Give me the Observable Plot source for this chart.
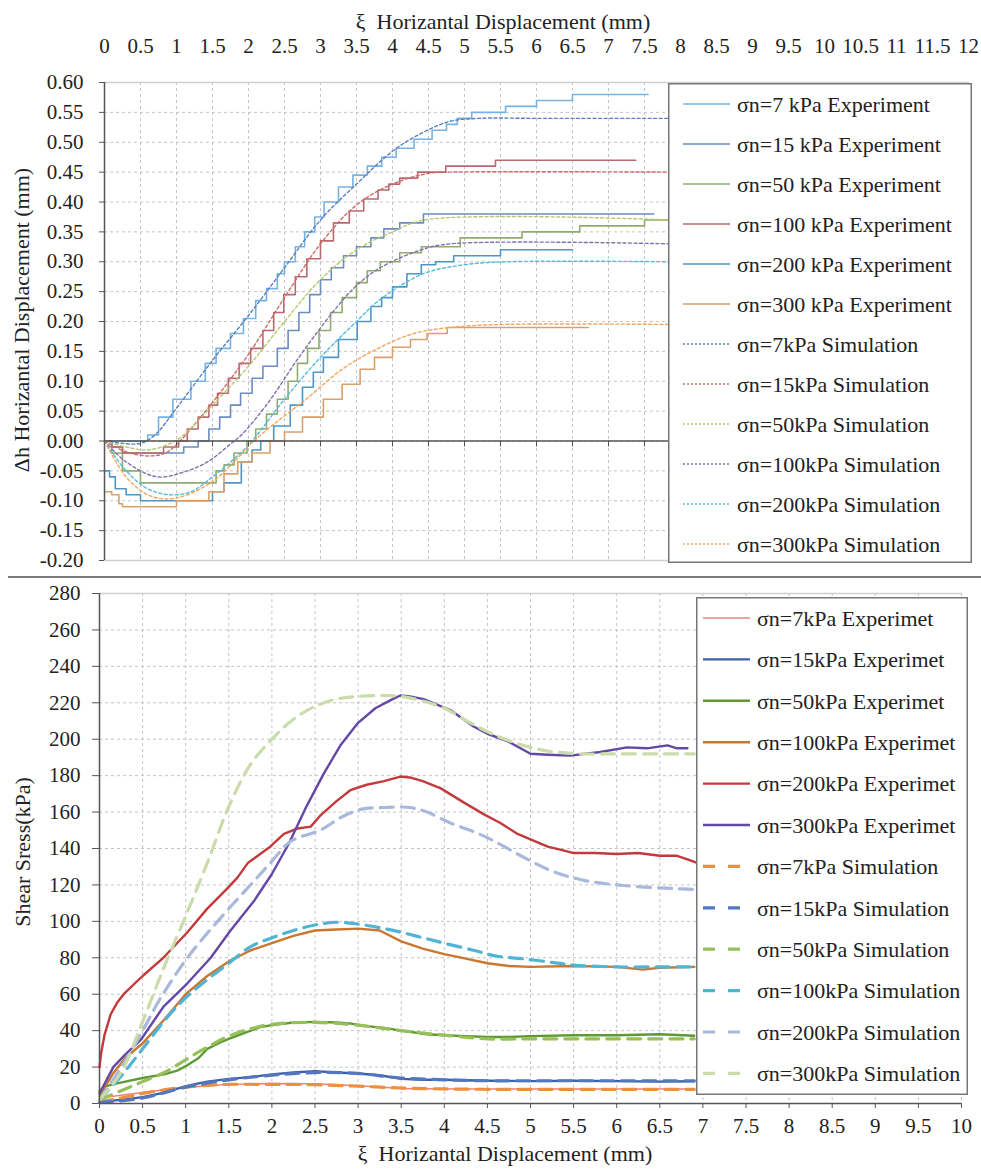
<!DOCTYPE html>
<html><head><meta charset="utf-8">
<script src="https://cdn.jsdelivr.net/npm/d3@7"></script>
<script src="https://cdn.jsdelivr.net/npm/@observablehq/plot@0.6"></script>
<style>
body{margin:0;background:#fff;}
#wrap{position:relative;width:981px;height:1171px;overflow:hidden;font-family:"Liberation Serif","Times New Roman",Times,"DejaVu Serif",serif;color:#222;}
.abs{position:absolute;white-space:pre;line-height:1;}
</style></head><body><div id="wrap"></div>
<script>
// ---------- top panel: Δh vs ξ ----------
const dhXTicks = [0,0.5,1,1.5,2,2.5,3,3.5,4,4.5,5,5.5,6,6.5,7,7.5,8,8.5,9,9.5,10,10.5,11,11.5,12];
const dhYTicks = [-0.2,-0.15,-0.1,-0.05,0,0.05,0.1,0.15,0.2,0.25,0.3,0.35,0.4,0.45,0.5,0.55,0.6];
const dhLabels = ["σn=7 kPa Experiment","σn=15 kPa Experiment","σn=50 kPa Experiment","σn=100 kPa Experiment","σn=200 kPa Experiment","σn=300 kPa Experiment","σn=7kPa Simulation","σn=15kPa Simulation","σn=50kPa Simulation","σn=100kPa Simulation","σn=200kPa Simulation","σn=300kPa Simulation"];

const dhExp7 = [[0,0],[0.5,0],[0.6,0.01],[0.75,0.04],[0.95,0.07],[1.2,0.10],[1.4,0.13],[1.55,0.155],[1.75,0.18],[1.93,0.205],[2.1,0.235],[2.25,0.255],[2.4,0.28],[2.5,0.30],[2.65,0.325],[2.78,0.35],[2.92,0.375],[3.05,0.40],[3.25,0.425],[3.45,0.445],[3.65,0.46],[3.85,0.475],[4.05,0.49],[4.3,0.505],[4.55,0.52],[4.75,0.53],[4.9,0.54],[5.1,0.55],[5.57,0.56],[6.0,0.57],[6.5,0.58],[7.55,0.58]];
const dhExp15 = [[0,0],[0.1,-0.01],[0.25,-0.02],[1.1,-0.01],[1.3,0],[1.45,0.02],[1.6,0.04],[1.75,0.06],[1.89,0.08],[2.05,0.105],[2.2,0.125],[2.4,0.155],[2.55,0.185],[2.7,0.215],[2.85,0.245],[3.0,0.27],[3.15,0.29],[3.32,0.31],[3.5,0.325],[3.7,0.34],[3.88,0.355],[4.1,0.365],[4.43,0.38],[7.63,0.38]];
const dhExp50 = [[0,0],[0.1,-0.02],[0.25,-0.05],[0.5,-0.07],[1.4,-0.07],[1.55,-0.05],[1.66,-0.04],[1.8,-0.02],[1.98,0],[2.1,0.02],[2.25,0.045],[2.4,0.07],[2.55,0.10],[2.68,0.13],[2.82,0.155],[2.98,0.185],[3.14,0.215],[3.3,0.24],[3.5,0.265],[3.65,0.285],[3.83,0.30],[4.1,0.315],[4.4,0.325],[4.94,0.34],[5.8,0.35],[6.6,0.36],[7.5,0.37],[7.85,0.37]];
const dhExp100 = [[0,0],[0.1,-0.01],[0.25,-0.02],[0.82,-0.01],[1.03,0],[1.15,0.02],[1.3,0.04],[1.45,0.06],[1.57,0.08],[1.72,0.105],[1.87,0.13],[2.03,0.155],[2.2,0.185],[2.35,0.215],[2.49,0.245],[2.65,0.275],[2.81,0.305],[3.0,0.335],[3.18,0.365],[3.4,0.385],[3.6,0.405],[3.8,0.42],[3.95,0.43],[4.1,0.44],[4.35,0.45],[4.74,0.46],[5.43,0.47],[7.38,0.47]];
const dhExp200 = [[0,-0.05],[0.07,-0.06],[0.15,-0.08],[0.3,-0.09],[0.5,-0.10],[1.33,-0.10],[1.5,-0.085],[1.66,-0.07],[1.9,-0.035],[2.05,-0.015],[2.17,0],[2.35,0.025],[2.58,0.06],[2.75,0.09],[2.9,0.115],[3.04,0.14],[3.25,0.17],[3.51,0.20],[3.7,0.225],[3.85,0.24],[4.0,0.258],[4.2,0.28],[4.4,0.295],[4.6,0.30],[4.85,0.31],[5.5,0.32],[6.5,0.32]];
const dhExp300 = [[0,-0.085],[0.1,-0.09],[0.2,-0.105],[0.25,-0.11],[1.0,-0.10],[1.3,-0.10],[1.45,-0.085],[1.66,-0.055],[1.85,-0.035],[2.05,-0.02],[2.3,0],[2.5,0.015],[2.75,0.04],[3.04,0.07],[3.3,0.095],[3.55,0.12],[3.75,0.14],[4.0,0.157],[4.25,0.17],[4.48,0.18],[4.76,0.19],[6.72,0.19]];
const dhSim7 = [[0,0],[0.25,-0.004],[0.5,-0.004],[0.7,0.01],[1.0,0.055],[1.5,0.135],[2.0,0.21],[2.5,0.29],[3.0,0.37],[3.5,0.43],[4.0,0.485],[4.4,0.515],[4.8,0.535],[5.2,0.54],[6.0,0.54],[7.85,0.54]];
const dhSim15 = [[0,0],[0.3,-0.018],[0.6,-0.025],[0.85,-0.02],[1.05,0],[1.3,0.035],[1.6,0.08],[2.0,0.145],[2.5,0.24],[3.0,0.33],[3.5,0.395],[4.0,0.43],[4.5,0.448],[4.8,0.45],[7.85,0.45]];
const dhSim50 = [[0,0],[0.3,-0.01],[0.6,-0.015],[0.9,-0.005],[1.1,0.01],[1.5,0.06],[2.0,0.125],[2.5,0.2],[3.0,0.27],[3.5,0.32],[4.0,0.35],[4.45,0.37],[7.85,0.37]];
const dhSim100 = [[0,0],[0.3,-0.035],[0.73,-0.06],[1.1,-0.052],[1.43,-0.035],[1.75,-0.005],[1.9,0.01],[2.26,0.062],[2.7,0.14],[3.2,0.22],[3.5,0.26],[3.83,0.29],[4.4,0.32],[4.8,0.33],[7.85,0.33]];
const dhSim200 = [[0,0],[0.3,-0.05],[0.6,-0.08],[0.9,-0.09],[1.2,-0.085],[1.5,-0.06],[1.8,-0.03],[2.05,0],[2.5,0.07],[3.0,0.14],[3.5,0.2],[3.83,0.237],[4.43,0.28],[5.0,0.295],[5.6,0.30],[7.85,0.30]];
const dhSim300 = [[0,0],[0.3,-0.06],[0.6,-0.09],[0.87,-0.097],[1.15,-0.09],[1.52,-0.066],[1.8,-0.035],[2.03,-0.005],[2.35,0.028],[2.8,0.07],[3.3,0.12],[3.8,0.155],[4.3,0.18],[4.8,0.19],[5.5,0.195],[7.85,0.195]];

// ---------- bottom panel: shear stress vs ξ ----------
const ssXTicks = [0,0.5,1,1.5,2,2.5,3,3.5,4,4.5,5,5.5,6,6.5,7,7.5,8,8.5,9,9.5,10];
const ssYTicks = [0,20,40,60,80,100,120,140,160,180,200,220,240,260,280];
const ssLabels = ["σn=7kPa Experimet","σn=15kPa Experimet","σn=50kPa Experimet","σn=100kPa Experimet","σn=200kPa Experimet","σn=300kPa Experimet","σn=7kPa Simulation","σn=15kPa Simulation","σn=50kPa Simulation","σn=100kPa Simulation","σn=200kPa Simulation","σn=300kPa Simulation"];

const ssExp7 = [[0,3],[0.25,4.5],[0.5,6],[0.75,7.5],[1.0,8.8],[1.25,9.8],[1.5,10.5],[2.0,11],[2.5,10.8],[3.0,9.8],[3.25,9],[3.5,8.2],[4.0,8],[4.5,8],[5.0,8],[5.5,8],[6.0,8],[6.5,8],[6.9,8]];
const ssExp15 = [[0,1],[0.25,2],[0.5,3.5],[0.75,6],[1.0,9.5],[1.25,12],[1.5,13.5],[1.75,14.5],[2.0,16],[2.25,17],[2.5,17.8],[2.75,17],[3.0,16.5],[3.25,15.5],[3.5,13.5],[3.75,13],[4.0,13],[4.5,12.5],[5.0,12.3],[5.5,12.5],[6.0,12.3],[6.5,12],[6.9,12.2]];
const ssExp50 = [[0,6.8],[0.05,9],[0.15,10.5],[0.3,12],[0.5,14],[0.75,16],[0.9,18],[1.0,20.5],[1.15,25],[1.25,30],[1.4,33.5],[1.5,35.5],[1.7,39],[1.87,42],[2.0,43],[2.25,44.5],[2.5,44.8],[2.75,44.5],[2.9,44],[3.1,42.5],[3.3,41.5],[3.5,40],[3.8,38],[4.0,37.5],[4.25,37],[4.5,36.5],[4.75,36.5],[5.0,37],[5.5,37.5],[6.0,37.5],[6.5,38],[6.9,37.2]];
const ssExp100 = [[0,4],[0.05,8],[0.15,16],[0.3,25],[0.5,33],[0.75,46],[1.0,60],[1.25,70],[1.5,78],[1.75,84],[2.0,88],[2.25,92],[2.5,95],[2.75,95.5],[3.0,96],[3.25,95],[3.5,89],[3.75,85],[4.0,82],[4.25,79.5],[4.5,77],[4.75,75.5],[5.0,75],[5.5,75.5],[6.0,75],[6.3,73.5],[6.5,74.5],[6.9,75]];
const ssExp200 = [[0,20],[0.02,28],[0.06,38],[0.13,49],[0.2,55],[0.28,60],[0.5,70],[0.74,80],[1.02,94],[1.25,107],[1.48,118],[1.6,124],[1.72,132],[1.98,141],[2.14,148],[2.3,151],[2.45,152],[2.56,158],[2.75,166],[2.91,172],[3.1,175],[3.3,177],[3.49,179.5],[3.6,179],[3.75,177],[3.96,173],[4.2,166],[4.45,159],[4.65,154],[4.85,148],[5.0,145],[5.2,141],[5.38,139],[5.5,137.5],[5.75,137.5],[6.0,137],[6.25,137.5],[6.5,136],[6.7,136],[6.82,134],[6.94,132]];
const ssExp300 = [[0,5.5],[0.16,20],[0.3,27],[0.48,35],[0.74,53],[1.02,66],[1.29,80],[1.52,95],[1.79,111],[2.0,126],[2.2,143],[2.4,163],[2.6,181],[2.8,197],[3.0,209],[3.2,217],[3.4,222],[3.49,224],[3.6,223.5],[3.76,222],[4.07,216],[4.34,207],[4.5,203],[4.73,199],[5.0,192],[5.2,191.5],[5.46,191],[5.81,193],[6.12,195.5],[6.35,195],[6.59,196.6],[6.7,195],[6.82,195]];
const ssSim7 = [[0,1],[0.25,3],[0.5,5.5],[0.75,7.5],[1.0,9],[1.25,10],[1.5,10.5],[2.0,10.5],[2.5,10.3],[3.0,9.5],[3.5,8.5],[4.0,8],[4.5,7.8],[5.0,7.8],[6.0,7.8],[6.9,7.8]];
const ssSim15 = [[0,0.5],[0.5,3],[1.0,9],[1.5,13],[2.0,15.5],[2.5,17],[3.0,16.5],[3.5,14],[4.0,13],[4.5,12.5],[5.0,12.5],[6.0,12.5],[6.9,12.5]];
const ssSim50 = [[0,2],[0.25,7],[0.5,12],[0.75,17],[1.0,24],[1.25,31],[1.5,37],[1.75,41],[2.0,43.5],[2.5,44.5],[3.0,43],[3.5,40],[4.0,37.5],[4.5,35.5],[5.0,35.5],[5.5,35.5],[6.0,35.5],[6.9,35.5]];
const ssSim100 = [[0,2],[0.25,15],[0.5,30],[0.78,47],[1.0,58],[1.25,68],[1.5,77],[1.75,86],[2.0,91],[2.25,95],[2.5,98],[2.75,99.5],[3.0,98.5],[3.25,96.5],[3.5,94],[3.75,91],[4.0,88],[4.35,84],[4.6,81],[4.9,79.5],[5.25,77.5],[5.5,76],[6.0,75],[6.5,75],[6.9,75]];
const ssSim200 = [[0,2],[0.32,25],[0.5,40],[0.71,58],[1.02,80],[1.37,100],[1.79,122],[2.0,133],[2.22,144],[2.56,150],[2.8,157],[3.03,161.5],[3.3,162.5],[3.6,162.5],[3.8,160],[4.07,154],[4.3,150],[4.54,145],[4.85,137],[5.23,128],[5.62,122.5],[6.08,119.7],[6.66,118],[6.94,117.5]];
const ssSim300 = [[0,2],[0.25,17],[0.5,45],[0.75,75],[1.0,103],[1.25,132],[1.5,163],[1.75,186],[2.0,200],[2.25,211],[2.5,218],[2.75,222],[3.0,223.5],[3.3,224],[3.5,223.5],[3.75,221],[4.0,217],[4.34,208],[4.6,202],[4.92,196.5],[5.2,193.5],[5.58,192],[6.0,192],[6.5,192],[6.9,192]];

// ---------- styles (kept apart from data) ----------
const FONT = '"Liberation Serif","Times New Roman",Times,"DejaVu Serif",serif';
const dhData = [dhExp7, dhExp15, dhExp50, dhExp100, dhExp200, dhExp300, dhSim7, dhSim15, dhSim50, dhSim100, dhSim200, dhSim300];
const dhColors = ["#75b3e3","#6a8cc0","#8fab6f","#b86a70","#4f96c6","#d9a06c","#5b7fc0","#d06a6a","#b5c86a","#8470b0","#55bcd6","#f2a65e"];
const ssData = [ssExp7, ssExp15, ssExp50, ssExp100, ssExp200, ssExp300, ssSim7, ssSim15, ssSim50, ssSim100, ssSim200, ssSim300];
const ssColors = ["#f07f7f","#3b61aa","#5e9a32","#c9772f","#c23a3c","#6447a6","#ef8f3c","#5577c0","#98c05a","#4fb4d6","#a9b9dc","#c9dcaa"];

const rows = pts => pts.map(([x, y]) => ({x, y}));
const gridStyle = {stroke: "#c4c4c4", strokeOpacity: 1, strokeDasharray: "3,3", strokeWidth: 1};

const wrap = document.getElementById("wrap");

// ----- top plot -----
const dhLines = dhData.map((d, i) => {
  const sim = i >= 6;
  return Plot.line(rows(d), {
    x: "x", y: "y", stroke: dhColors[i],
    strokeWidth: sim ? 1.4 : 1.6,
    strokeDasharray: sim ? "3,2.5" : null,
    curve: sim ? "catmull-rom" : "step-after"
  });
});
const topPlot = Plot.plot({
  width: 981, height: 577,
  marginLeft: 104, marginRight: 13, marginTop: 82, marginBottom: 17,
  x: {domain: [0, 12]},
  y: {domain: [-0.2, 0.6]},
  style: {fontFamily: FONT, fontSize: "21px", color: "#222", background: "transparent", overflow: "visible"},
  marks: [
    Plot.gridX(dhXTicks, gridStyle),
    Plot.gridY(dhYTicks, gridStyle),
    Plot.ruleY([dhYTicks[0], dhYTicks[dhYTicks.length - 1]], {stroke: "#cfcfcf", strokeWidth: 1.5}),
    Plot.axisX({anchor: "top", ticks: dhXTicks, tickSize: 0, tickPadding: 30, tickFormat: d => String(d), fontSize: 21, label: null}),
    Plot.axisY({ticks: dhYTicks, tickSize: 5, tickPadding: 16, tickFormat: d => d.toFixed(2), fontSize: 21, label: null, stroke: "#555"}),
    ...dhLines,
    Plot.ruleY([0], {stroke: "#555", strokeWidth: 1.5}),
    Plot.ruleX(dhXTicks, {x: d => d, y1: 0, y2: -0.01, stroke: "#555"}),
    Plot.ruleX([0], {stroke: "#555", strokeWidth: 1.5})
  ]
});
topPlot.style.position = "absolute"; topPlot.style.left = "0px"; topPlot.style.top = "0px";
wrap.appendChild(topPlot);

// ----- bottom plot -----
const ssLines = ssData.map((d, i) => {
  const sim = i >= 6;
  return Plot.line(rows(d), {
    x: "x", y: "y", stroke: ssColors[i],
    strokeWidth: sim ? 3.2 : (i === 0 ? 1.5 : 2.4),
    strokeDasharray: sim ? "13,8" : null,
    curve: sim ? "catmull-rom" : "linear"
  });
});
const botPlot = Plot.plot({
  width: 981, height: 594,
  marginLeft: 99, marginRight: 20, marginTop: 16, marginBottom: 68,
  x: {domain: [0, 10]},
  y: {domain: [0, 280]},
  style: {fontFamily: FONT, fontSize: "21px", color: "#222", background: "transparent", overflow: "visible"},
  marks: [
    Plot.gridX(ssXTicks, gridStyle),
    Plot.gridY(ssYTicks, gridStyle),
    Plot.ruleY([ssYTicks[ssYTicks.length - 1]], {stroke: "#cfcfcf", strokeWidth: 1.5}),
    Plot.axisX({ticks: ssXTicks, tickSize: 5, tickPadding: 10, tickFormat: d => String(d), fontSize: 21, label: null, stroke: "#555"}),
    Plot.axisY({ticks: ssYTicks, tickSize: 7, tickPadding: 12, tickFormat: d => String(d), fontSize: 21, label: null, stroke: "#555"}),
    ...ssLines,
    Plot.ruleY([0], {stroke: "#555", strokeWidth: 1.5}),
    Plot.ruleX([0], {stroke: "#555", strokeWidth: 1.5})
  ]
});
botPlot.style.position = "absolute"; botPlot.style.left = "0px"; botPlot.style.top = "577px";
wrap.appendChild(botPlot);

// ----- separator -----
const sep = document.createElement("div");
sep.style.cssText = "position:absolute;left:8px;top:576px;width:973px;height:2px;background:#7a7a7a;";
wrap.appendChild(sep);

// ----- titles -----
function title(text, cx, cy, rotate, size) {
  const d = document.createElement("div");
  d.className = "abs";
  d.textContent = text;
  d.style.left = cx + "px"; d.style.top = cy + "px";
  d.style.fontSize = size + "px";
  d.style.transform = "translate(-50%,-50%)" + (rotate ? " rotate(-90deg)" : "");
  wrap.appendChild(d);
}
title("ξ  Horizantal Displacement (mm)", 503, 22, false, 22);
title("ξ  Horizantal Displacement (mm)", 505, 1154, false, 22);
title("Δh Horizantal Displacement (mm)", 22, 320, true, 22);
title("Shear Sress(kPa)", 23, 852, true, 22);

// ----- legends -----
function legend(labels, colors, box, lineStyle) {
  const svg = d3.select(wrap).append("svg")
    .attr("width", box.w).attr("height", box.h)
    .style("position", "absolute").style("left", box.x + "px").style("top", box.y + "px");
  svg.append("rect").attr("x", 0.75).attr("y", 0.75).attr("width", box.w - 1.5).attr("height", box.h - 1.5)
    .attr("fill", "#fff").attr("stroke", "#777").attr("stroke-width", 1.5);
  labels.forEach((lab, i) => {
    const y = box.row0 + i * box.rowH;
    const ls = lineStyle(i);
    svg.append("line").attr("x1", box.s0).attr("x2", box.s1).attr("y1", y).attr("y2", y)
      .attr("stroke", colors[i]).attr("stroke-width", ls.w).attr("stroke-dasharray", ls.dash);
    svg.append("text").attr("x", box.tx).attr("y", y).attr("dy", "0.35em")
      .attr("font-family", FONT).attr("font-size", box.fs).attr("fill", "#222").text(lab);
  });
}
legend(dhLabels, dhColors, {x: 668, y: 83, w: 304, h: 480, row0: 21, rowH: 40, s0: 15, s1: 62, tx: 69, fs: 22},
  i => i >= 6 ? {w: 1.4, dash: "2,2"} : {w: 1.6, dash: null});
legend(ssLabels, ssColors, {x: 696, y: 597, w: 272, h: 498, row0: 21, rowH: 41.4, s0: 7, s1: 54, tx: 61, fs: 22},
  i => i >= 6 ? {w: 3.2, dash: "12,13"} : {w: i === 0 ? 1.5 : 2.4, dash: null});
</script></body></html>
